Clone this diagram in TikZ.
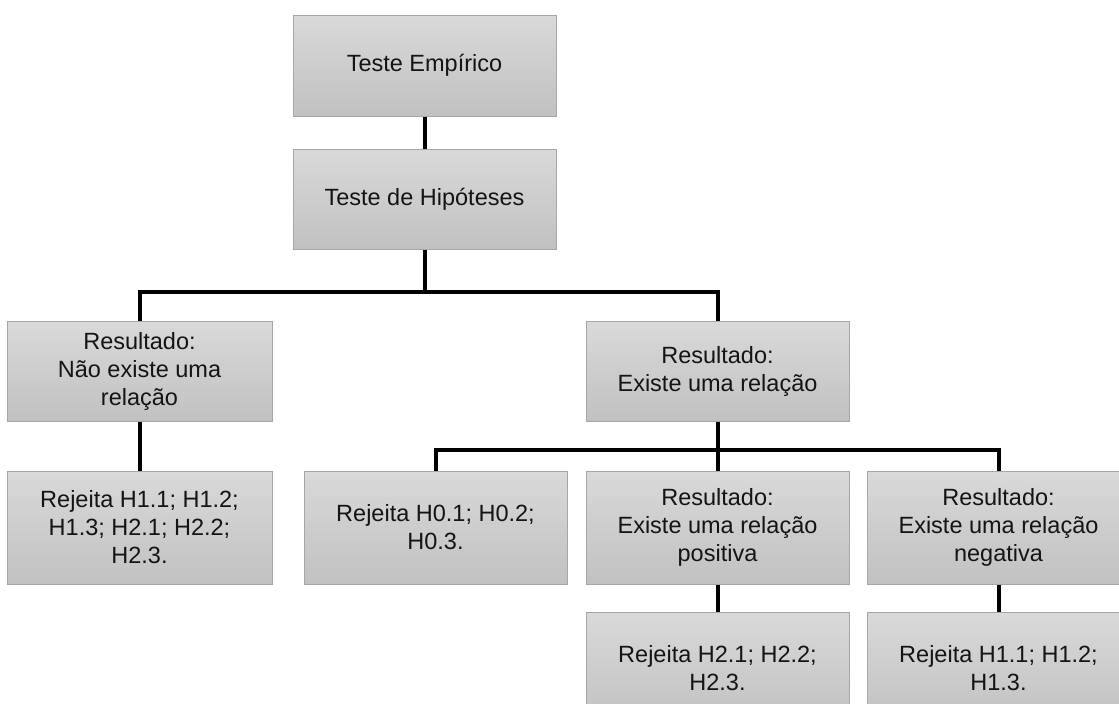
\documentclass[tikz,border=0pt]{standalone}
\usepackage{fontspec}
\setmainfont{Liberation Sans}
\definecolor{boxtop}{RGB}{217,217,217}
\definecolor{boxbot}{RGB}{193,193,193}
\definecolor{boxline}{RGB}{166,166,166}
\definecolor{txt}{RGB}{20,20,20}
\tikzset{
  box/.style={draw=boxline, line width=1pt, top color=boxtop, bottom color=boxbot,
    rectangle, minimum width=263pt, minimum height=100pt, inner sep=0pt,
    align=center, text=txt, font=\fontsize{23.5}{28}\selectfont},
  tall/.style={minimum height=113pt},
  link/.style={draw=black, line width=4pt, line join=miter}
}
\begin{document}
\begin{tikzpicture}[x=1pt,y=-1pt]
\clip (0,0) rectangle (1119,704);
\fill[white] (0,0) rectangle (1119,704);
\coordinate (j1) at (424.5,292);
\coordinate (j2) at (717.5,450);
\node[box, minimum height=101pt] (te) at (424.5,65.5) {Teste Empírico};
\node[box] (th) at (424.5,199) {Teste de Hipóteses};
\node[box, minimum width=265pt] (r1) at (139.5,371) {Resultado:\\Não existe uma\\relação};
\node[box] (r2) at (717.5,371) {Resultado:\\Existe uma relação};
\node[box, tall, minimum width=265pt] (rl) at (139.5,527.5) {Rejeita H1.1; H1.2;\\H1.3; H2.1; H2.2;\\H2.3.};
\node[box, tall] (h0) at (435.5,527.5) {Rejeita H0.1; H0.2;\\H0.3.};
\node[box, tall] (pos) at (717.5,527.5) {Resultado:\\Existe uma relação\\positiva};
\node[box, tall] (neg) at (998.5,527.5) {Resultado:\\Existe uma relação\\negativa};
\node[box, tall] (pr) at (717.5,668.5) {Rejeita H2.1; H2.2;\\H2.3.};
\node[box, tall] (nr) at (998.5,668.5) {Rejeita H1.1; H1.2;\\H1.3.};
\draw[link] (te.south) -- (th.north);
\draw[link] (th.south) -- (j1);
\draw[link] (r1.north) |- (j1) -| (r2.north);
\draw[link] (r2.south) -- (j2);
\draw[link] (h0.north) |- (j2) -| (neg.north);
\draw[link] (j2) -- (pos.north);
\draw[link] (r1.south) -- (rl.north);
\draw[link] (pos.south) -- (pr.north);
\draw[link] (neg.south) -- (nr.north);
\end{tikzpicture}
\end{document}
